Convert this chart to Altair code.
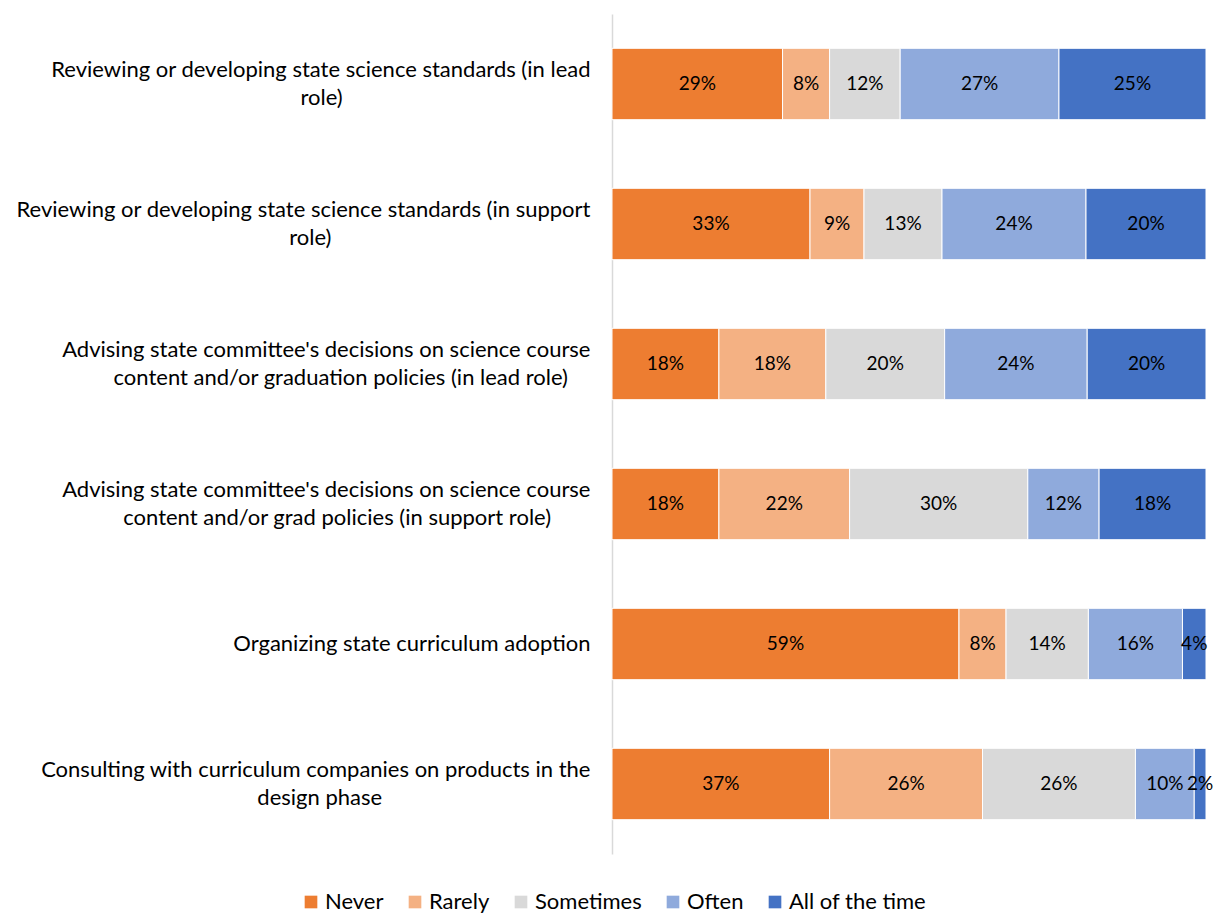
import altair as alt
import pandas as pd

tasks = [
    "Reviewing or developing state science standards (in lead|role)",
    "Reviewing or developing state science standards (in support|role)",
    "Advising state committee's decisions on science course|content and/or graduation policies (in lead role)",
    "Advising state committee's decisions on science course|content and/or grad policies (in support role)",
    "Organizing state curriculum adoption",
    "Consulting with curriculum companies on products in the|design phase",
]
responses = ["Never", "Rarely", "Sometimes", "Often", "All of the time"]
colors = ["#ED7D31", "#F4B183", "#D9D9D9", "#8FAADC", "#4472C4"]

never = [29, 33, 18, 18, 59, 37]
rarely = [8, 9, 18, 22, 8, 26]
sometimes = [12, 13, 20, 30, 14, 26]
often = [27, 24, 24, 12, 16, 10]
all_time = [25, 20, 20, 18, 4, 2]


def centered(label):
    # right-aligned axis label block whose lines look centred among themselves
    lines = label.split("|")
    longest = max(len(s) for s in lines)
    out = []
    for s in lines:
        pad = int(round((longest - len(s)) * 0.86))
        out.append(s + "\u00a0" * pad + ("\u200b" if pad else ""))
    return "|".join(out)


display = [centered(t) for t in tasks]

series = [never, rarely, sometimes, often, all_time]
rows = []
for i, t in enumerate(display):
    for j, r in enumerate(responses):
        rows.append({"task": t, "response": r, "order": j, "value": series[j][i]})
df = pd.DataFrame(rows)

FONT = "Lato"

base = alt.Chart(df).transform_stack(
    stack="value",
    groupby=["task"],
    sort=[alt.SortField("order")],
    as_=["x0", "x1"],
    offset="normalize",
).transform_calculate(
    mid="(datum.x0 + datum.x1) / 2",
    label="datum.value + '%'",
)

yscale = alt.Scale(paddingInner=0.49, paddingOuter=0.245)

bars = base.mark_bar(stroke="white", strokeWidth=1).encode(
    x=alt.X("x0:Q", scale=alt.Scale(domain=[0, 1], nice=False, zero=True), axis=None),
    x2="x1:Q",
    y=alt.Y(
        "task:N",
        sort=display,
        scale=yscale,
        axis=alt.Axis(
            title=None,
            labelExpr="split(datum.label, '|')",
            labelAlign="right",
            labelPadding=22,
            labelFontSize=22,
            labelFont=FONT,
            labelColor="#000000",
            labelLineHeight=28,
            labelLimit=0,
            labelOffset={
                "condition": {"test": "indexof(datum.label, '|') >= 0", "value": -14},
                "value": 0,
            },
            ticks=False,
            grid=False,
            domainColor="#D9D9D9",
            domainWidth=1.5,
        ),
    ),
    color=alt.Color(
        "response:N",
        scale=alt.Scale(domain=responses, range=colors),
        sort=responses,
        legend=alt.Legend(
            title=None,
            orient="none",
            direction="horizontal",
            legendX=-312,
            legendY=877,
            symbolType="square",
            symbolSize=160,
            symbolStrokeWidth=0,
            labelFontSize=22,
            labelFont=FONT,
            labelColor="#000000",
            columnPadding=20,
            labelOffset=3,
        ),
    ),
    order=alt.Order("order:Q"),
)

text = base.mark_text(fontSize=19, font=FONT, color="#000000").encode(
    x=alt.X("mid:Q", scale=alt.Scale(domain=[0, 1], nice=False, zero=True), axis=None),
    y=alt.Y("task:N", sort=display, scale=yscale),
    text="label:N",
)

chart = (
    alt.layer(bars, text)
    .properties(
        width=594,
        height=840,
        autosize=alt.AutoSizeParams(type="none"),
        padding={"left": 604, "top": 6, "right": 15, "bottom": 60},
    )
    .configure_view(stroke=None)
)

chart.save("out.html", embed_options={"renderer": "svg", "actions": False})
